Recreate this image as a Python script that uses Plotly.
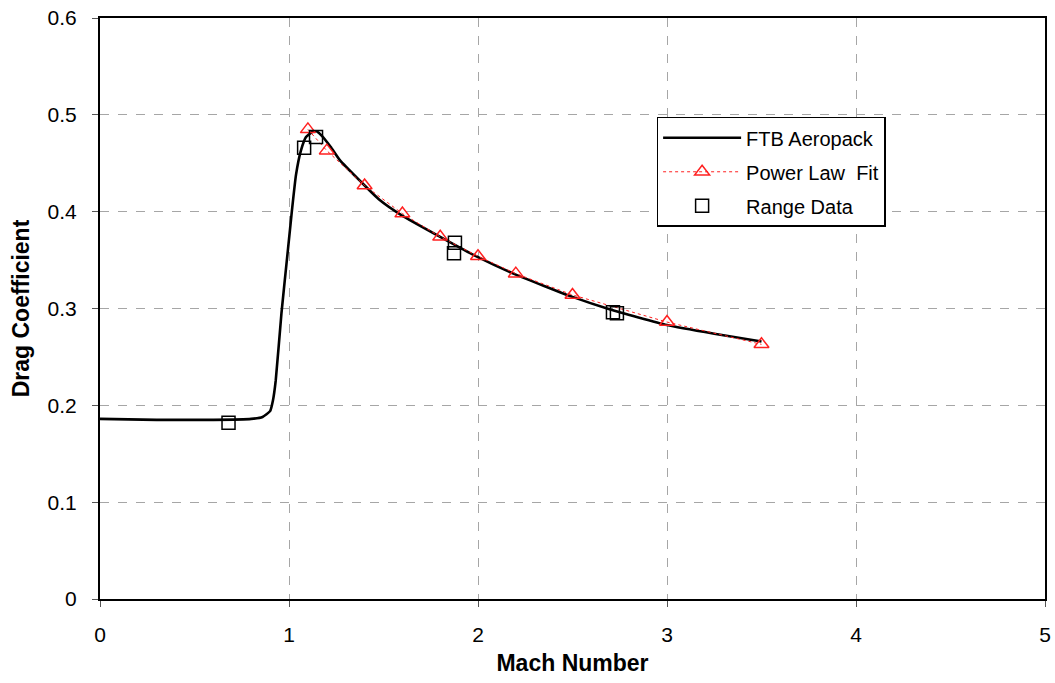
import plotly.graph_objects as go

# FTB Aeropack drag curve
mach_ftb = [0.0, 0.3, 0.6, 0.8, 0.86, 0.9, 0.915, 0.93, 0.96, 0.995, 1.016, 1.037,
            1.063, 1.09, 1.12, 1.145, 1.17, 1.22, 1.27, 1.38, 1.48, 1.59, 1.8, 2.0,
            2.2, 2.5, 2.7, 3.0, 3.25, 3.5]
cd_ftb = [0.186, 0.185, 0.185, 0.186, 0.188, 0.194, 0.205, 0.226, 0.295, 0.362, 0.402, 0.438,
          0.463, 0.477, 0.482, 0.483, 0.479, 0.467, 0.453, 0.431, 0.412, 0.397, 0.374, 0.353,
          0.335, 0.312, 0.299, 0.283, 0.274, 0.266]

# Power law fit points
mach_fit = [1.1, 1.2, 1.4, 1.6, 1.8, 2.0, 2.2, 2.5, 3.0, 3.5]
cd_fit = [0.485, 0.463, 0.427, 0.398, 0.374, 0.354, 0.336, 0.314, 0.286, 0.263]

# Range data
mach_range = [0.68, 1.08, 1.143, 1.873, 1.878, 2.714, 2.735]
cd_range = [0.182, 0.466, 0.477, 0.357, 0.368, 0.296, 0.295]

x_ticks = [0, 1, 2, 3, 4, 5]
y_ticks = [0, 0.1, 0.2, 0.3, 0.4, 0.5, 0.6]
y_tick_text = ["0", "0.1", "0.2", "0.3", "0.4", "0.5", "0.6"]

FONT = "Liberation Sans, Arial, sans-serif"

fig = go.Figure()
fig.add_trace(go.Scatter(
    x=mach_ftb, y=cd_ftb, mode="lines", name="FTB Aeropack", legendgroup="a",
    line=dict(color="black", width=2.6, shape="spline", smoothing=0.45),
))
fig.add_trace(go.Scatter(
    x=mach_fit, y=cd_fit, mode="lines+markers", name="Power Law  Fit", legendgroup="b",
    line=dict(color="#ff2020", width=1, dash="dot"),
    marker=dict(symbol="triangle-up-open", size=13, color="#ff2020", line=dict(width=1.5)),
))
fig.add_trace(go.Scatter(
    x=mach_range, y=cd_range, mode="markers", name="Range Data", legendgroup="c",
    marker=dict(symbol="square-open", size=13, color="black", line=dict(width=1.5)),
))

axis_common = dict(
    showline=True, linecolor="black", linewidth=2, mirror=True,
    showgrid=True, gridcolor="#a6a6a6", griddash="dash", gridwidth=1,
    ticks="outside", ticklen=6, tickcolor="#555555", tickwidth=1,
    zeroline=False, automargin=False,
    tickfont=dict(family=FONT, size=21, color="black"),
)

fig.update_xaxes(
    range=[0, 5], tickvals=x_ticks, ticklabelstandoff=10,
    title=dict(text="<b>Mach Number</b>", font=dict(family=FONT, size=23, color="black"),
               standoff=10),
    **axis_common,
)
fig.update_yaxes(
    range=[0, 0.6], tickvals=y_ticks, ticktext=y_tick_text, ticklabelstandoff=11,
    title=dict(text="<b>Drag Coefficient</b>", font=dict(family=FONT, size=23, color="black"),
               standoff=12),
    **axis_common,
)

fig.update_layout(
    width=1055, height=683,
    margin=dict(l=100, r=10, t=18, b=84),
    plot_bgcolor="white", paper_bgcolor="white",
    font=dict(family=FONT, color="black"),
    legend=dict(
        x=0.589, y=0.83, xanchor="left", yanchor="top",
        bgcolor="white", bordercolor="black", borderwidth=1.5,
        font=dict(family=FONT, size=20, color="black"),
        itemwidth=78, tracegroupgap=5,
    ),
)

fig.write_html("out.html")
